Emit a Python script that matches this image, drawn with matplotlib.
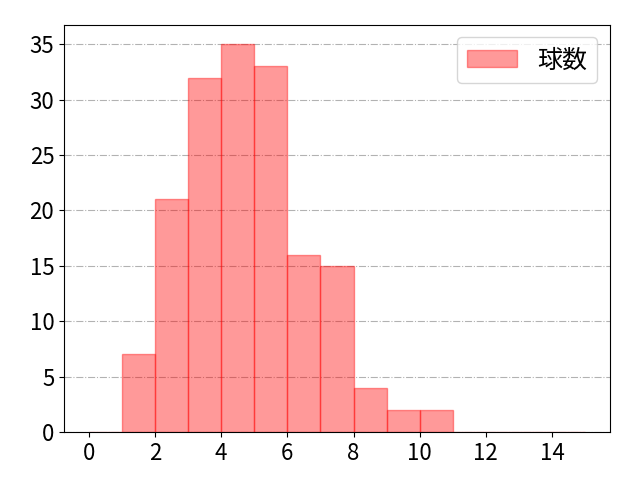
import matplotlib

matplotlib.use("Agg")
import matplotlib.pyplot as plt
import numpy as np

plt.rcParams["font.family"] = ["Noto Sans CJK JP", "DejaVu Sans"]

# pitch counts histogram: bin edges 0..15, one count per bin
bin_edges = np.arange(0, 16)
counts = [0, 7, 21, 32, 35, 33, 16, 15, 4, 2, 2, 0, 0, 0, 0]
label = "球数"

fig, ax = plt.subplots(figsize=(6.4, 4.8), dpi=100)
ax.hist(
    bin_edges[:-1],
    bins=bin_edges,
    weights=counts,
    color="red",
    alpha=0.4,
    edgecolor="red",
    linewidth=1,
    label=label,
    zorder=2,
)
ax.grid(True, axis="y", linestyle="-.", color="gray", alpha=0.6, zorder=0)
ax.set_axisbelow(True)
ax.set_xticks(np.arange(0, 16, 2))
ax.set_yticks(np.arange(0, 36, 5))
ax.tick_params(labelsize=16)
ax.legend(loc="upper right", fontsize=18)

plt.subplots_adjust(left=0.1, right=0.953, top=0.948, bottom=0.1)
plt.savefig("out.png", dpi=100)
plt.close(fig)
